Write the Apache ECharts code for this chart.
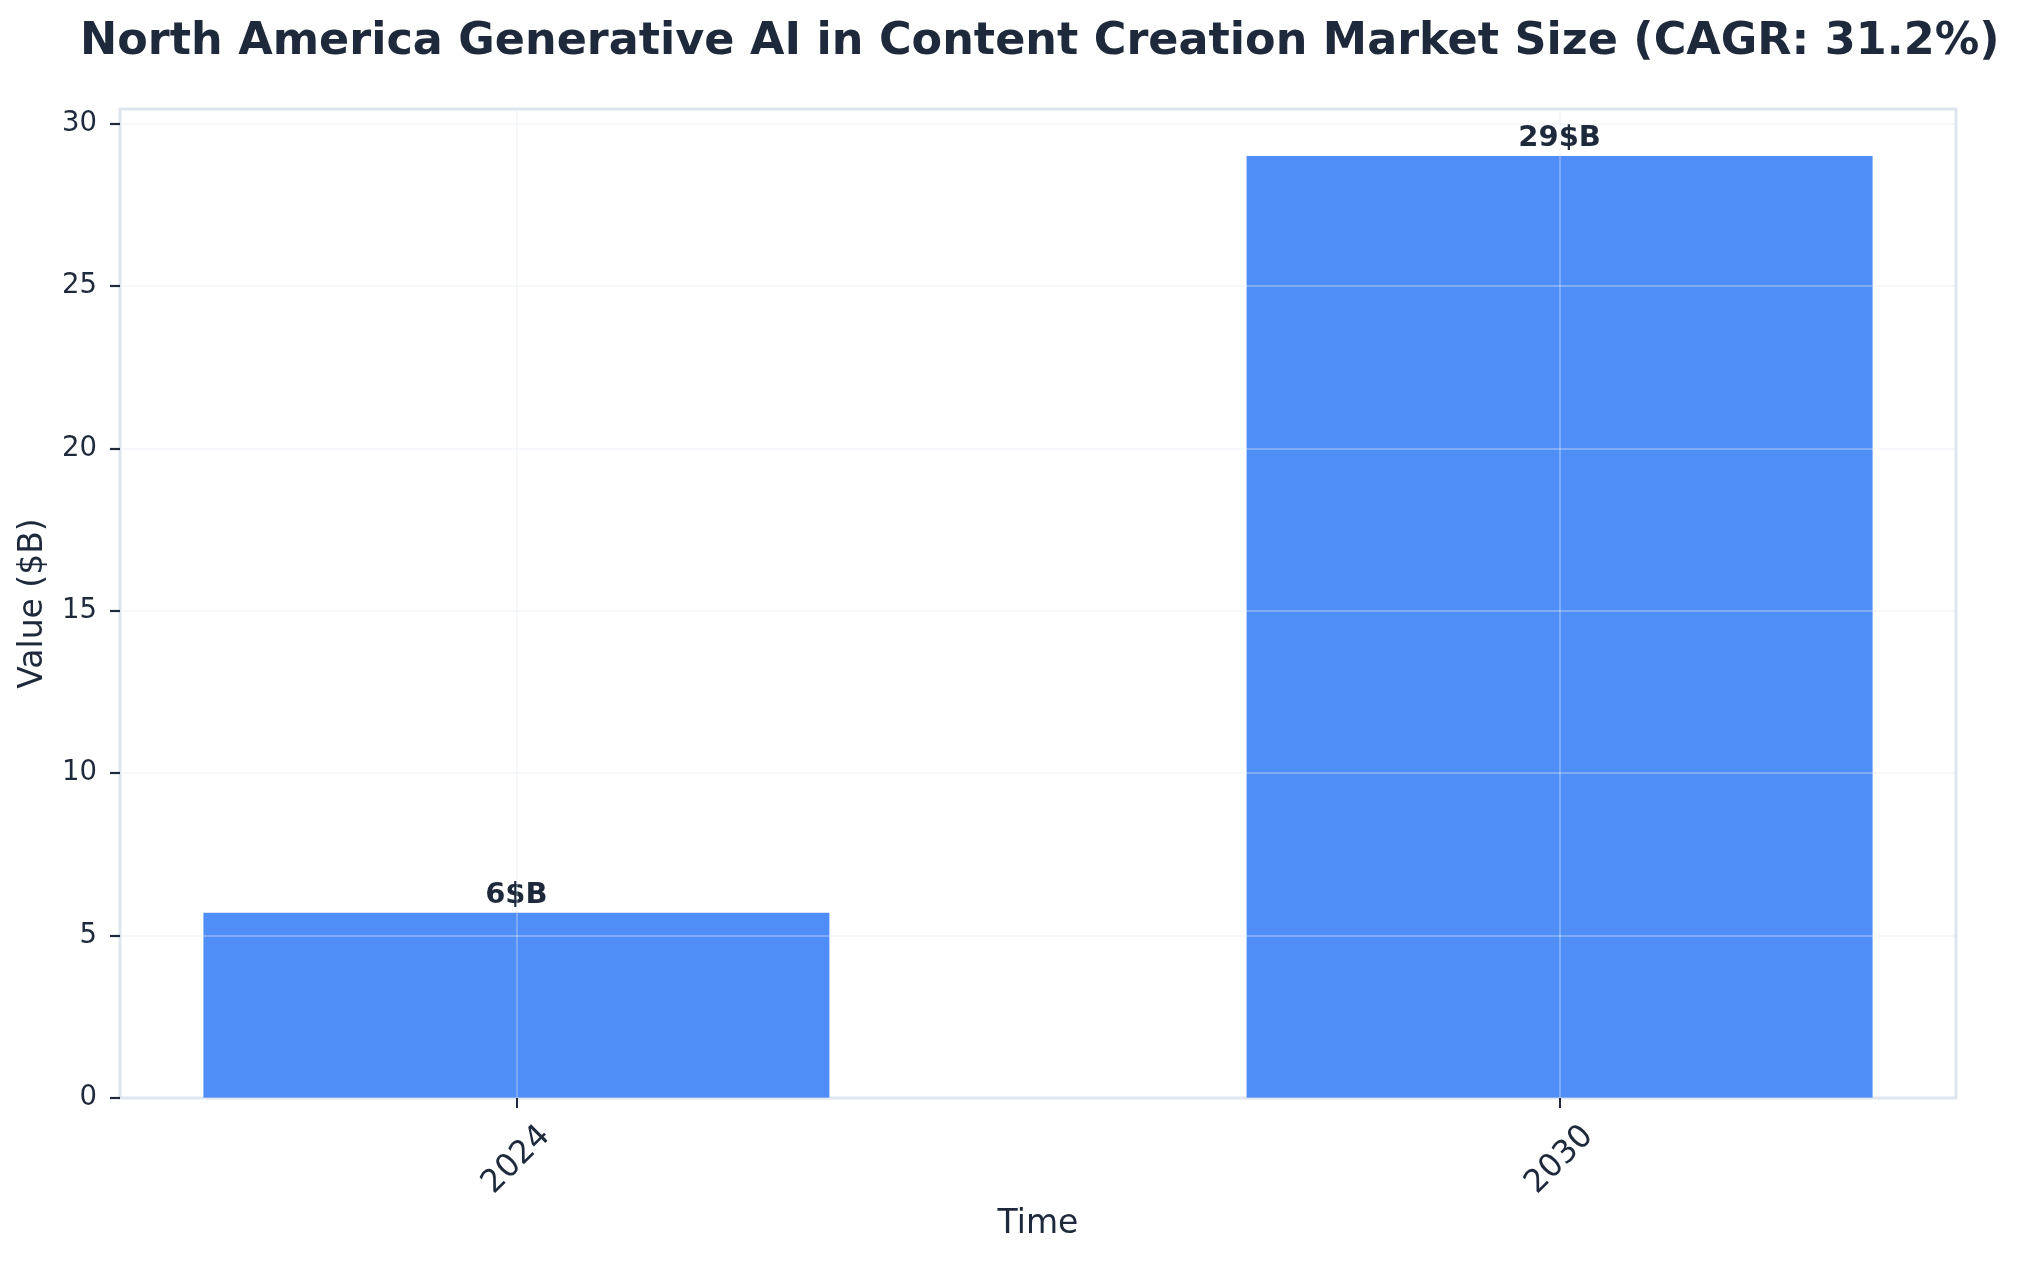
<!DOCTYPE html>
<html lang="en">
<head>
    <meta charset="UTF-8">
    <title>North America Generative AI in Content Creation Market Size</title>
    <script src="https://cdn.jsdelivr.net/npm/echarts@6/dist/echarts.min.js"></script>
    <style>
        body { margin: 0; background: #ffffff; }
        #chart { width: 2018px; height: 1265px; }
    </style>
</head>
<body>
    <div id="chart"></div>
<script>
// data
var years = ['2024', '2030'];
var values = [5.7, 29];
var yTicks = [0, 5, 10, 15, 20, 25, 30];

var ink = '#1e293b';
var font = 'DejaVu Sans';

// bars sit on a numeric x axis so the spacing matches the original
var xIndex = years.map(function (y, i) { return i; });
var barData = xIndex.map(function (i) { return [i, values[i]]; });

var myChart = echarts.init(document.getElementById('chart'));

var option = {
  backgroundColor: '#ffffff',
  textStyle: { fontFamily: font },
  title: {
    text: 'North America Generative AI in Content Creation Market Size (CAGR: 31.2%)',
    left: 75,
    top: 15,
    textStyle: { fontFamily: font, fontSize: 44.5, fontWeight: 'bold', color: ink }
  },
  grid: {
    left: 120,
    right: 62,
    top: 109,
    bottom: 167,
    show: true,
    borderColor: '#dfe5ee',
    borderWidth: 3,
    backgroundColor: 'transparent',
    outerBoundsMode: 'none'
  },
  xAxis: {
    type: 'value',
    min: -0.38,
    max: 1.38,
    z: 3,
    name: 'Time',
    nameLocation: 'middle',
    nameGap: 110,
    nameTextStyle: { fontFamily: font, fontSize: 33, color: ink },
    axisLine: { show: false, onZero: false },
    axisTick: {
      customValues: xIndex,
      length: 10,
      lineStyle: { color: ink, width: 2 }
    },
    axisLabel: {
      customValues: xIndex,
      formatter: function (v) { return years[Math.round(v)]; },
      rotate: 45,
      align: 'center',
      verticalAlign: 'middle',
      margin: 62,
      fontSize: 32,
      color: ink
    },
    splitLine: {
      show: true,
      lineStyle: { color: 'rgba(226,232,240,0.35)', width: 1.8 }
    }
  },
  yAxis: {
    type: 'value',
    position: 'left',
    min: 0,
    max: 30.45,
    z: 3,
    name: 'Value ($B)',
    nameLocation: 'middle',
    nameGap: 70,
    nameTextStyle: { fontFamily: font, fontSize: 33, color: ink },
    axisLine: { show: false, onZero: false },
    axisTick: {
      show: true,
      customValues: yTicks,
      length: 10,
      lineStyle: { color: ink, width: 2.2 }
    },
    axisLabel: {
      customValues: yTicks,
      margin: 23,
      fontSize: 27.5,
      color: ink
    },
    splitLine: {
      show: true,
      lineStyle: { color: 'rgba(226,232,240,0.35)', width: 1.8 }
    }
  },
  series: [
    {
      type: 'bar',
      data: barData,
      barWidth: 626,
      itemStyle: { color: '#4f8ef7' },
      label: {
        show: true,
        position: 'top',
        distance: 3,
        fontFamily: font,
        fontSize: 29,
        fontWeight: 'bold',
        color: ink,
        formatter: function (p) { return Math.round(p.value[1]) + '$B'; }
      }
    }
  ]
};

myChart.setOption(option);
</script>
</body>
</html>
